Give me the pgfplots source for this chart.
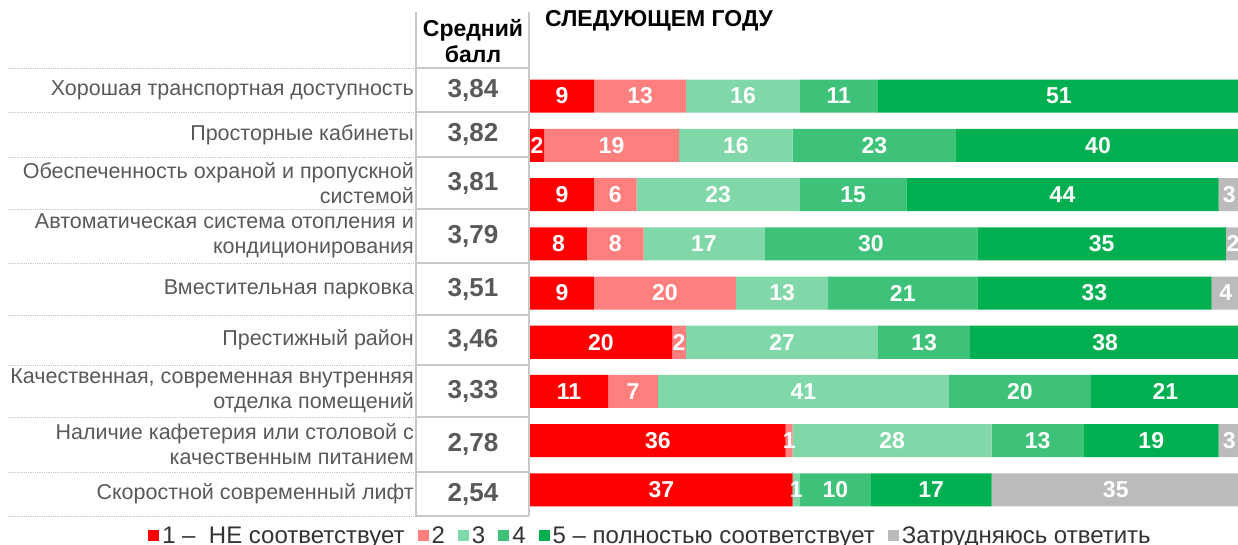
\documentclass[border=0pt]{standalone}
\usepackage{pgfplots}
\pgfplotsset{compat=1.18}
\usepackage{fontspec}
\setmainfont{Liberation Sans}
\definecolor{c1}{HTML}{FF0000}
\definecolor{c2}{HTML}{FF7F7F}
\definecolor{c3}{HTML}{80D7A8}
\definecolor{c4}{HTML}{3EC27A}
\definecolor{c5}{HTML}{00B050}
\definecolor{c6}{HTML}{BBBBBB}
\definecolor{lab}{HTML}{595959}
\definecolor{legt}{HTML}{333333}
\definecolor{gridc}{HTML}{C8C8C8}
\pgfplotsset{sq/.style={legend image code/.code={\fill[##1] (0pt,-5.5pt) rectangle (11pt,5.5pt);}}}
\tikzset{score/.style={font=\fontsize{26}{26}\selectfont\bfseries, text=lab}}
\begin{document}
\begin{tikzpicture}[x=1pt,y=1pt]
\useasboundingbox (0,0) rectangle (1238,545);
% dotted row separators on the left
\foreach \yy in {477,433,388,336,282,230,180,128,73,29}{
  \draw[gridc, densely dotted, line width=0.8pt] (8,\yy) -- (416,\yy);
  \draw[gridc, line width=1.2pt] (416,\yy) -- (529,\yy);
}
\draw[gridc, line width=1.2pt] (416,533) -- (416,29);
\draw[gridc, line width=1.2pt] (529,533) -- (529,29);
% header
\node[anchor=base, font=\fontsize{23}{23}\selectfont\bfseries] at (473,508) {Средний};
\node[anchor=base, font=\fontsize{23}{23}\selectfont\bfseries] at (473,482) {балл};
% title
\node[anchor=base west, inner sep=0pt, font=\fontsize{23}{23}\selectfont\bfseries] at (545,518) {СЛЕДУЮЩЕМ ГОДУ};
\begin{axis}[
  at={(530pt,30.4pt)}, anchor=south west,
  width=710pt, height=443.2pt, scale only axis,
  xbar stacked, bar width=33pt,
  xmin=0, xmax=100, ymin=-0.5, ymax=8.5, y dir=reverse,
  axis line style={draw=none}, tick style={draw=none},
  major tick length=0pt,
  xtick=\empty,
  ytick={-0.122,0.782,1.766,2.843,3.919,4.954,5.99,7.076,8.081},
  yticklabels={Хорошая транспортная доступность,Просторные кабинеты,{Обеспеченность охраной и пропускной\\системой},{Автоматическая система отопления и\\кондиционирования},Вместительная парковка,Престижный район,{Качественная, современная внутренняя\\отделка помещений},{Наличие кафетерия или столовой с\\качественным питанием},Скоростной современный лифт},
  yticklabel style={font=\fontsize{21.5}{25}\selectfont, text=lab, align=right, anchor=east, inner sep=0pt, xshift=-116pt},
  point meta=explicit symbolic,
  nodes near coords,
  every node near coord/.append style={font=\fontsize{23}{23}\selectfont\bfseries, text=white},
  clip=false,
  legend columns=-1,
  legend style={at={(axis description cs:0.169,0)}, anchor=center, yshift=-21pt, draw=none, fill=none,
    font=\fontsize{24}{24}\selectfont, text=legt,
    nodes={inner xsep=1pt},
    /tikz/every even column/.append style={column sep=12pt},
    /tikz/every odd column/.append style={column sep=2pt}},
]
\addplot[fill=c1, draw=none, sq] coordinates {(9,0) [9] (2,1) [2] (9,2) [9] (8,3) [8] (9,4) [9] (20,5) [20] (11,6) [11] (36,7) [36] (37,8) [37]};
\addplot[fill=c2, draw=none, sq] coordinates {(13,0) [13] (19,1) [19] (6,2) [6] (8,3) [8] (20,4) [20] (2,5) [2] (7,6) [7] (1,7) [1] (0,8) [0]};
\addplot[fill=c3, draw=none, sq] coordinates {(16,0) [16] (16,1) [16] (23,2) [23] (17,3) [17] (13,4) [13] (27,5) [27] (41,6) [41] (28,7) [28] (1,8) [1]};
\addplot[fill=c4, draw=none, sq] coordinates {(11,0) [11] (23,1) [23] (15,2) [15] (30,3) [30] (21,4) [21] (13,5) [13] (20,6) [20] (13,7) [13] (10,8) [10]};
\addplot[fill=c5, draw=none, sq] coordinates {(51,0) [51] (40,1) [40] (44,2) [44] (35,3) [35] (33,4) [33] (38,5) [38] (21,6) [21] (19,7) [19] (17,8) [17]};
\addplot[fill=c6, draw=none, sq] coordinates {(0,0) [] (0,1) [] (3,2) [3] (2,3) [2] (4,4) [4] (0,5) [] (0,6) [] (3,7) [3] (35,8) [35]};
\legend{1 –\ \ НЕ соответствует,2,3,4,5 – полностью соответствует,Затрудняюсь ответить}
\node[score] at (axis cs:-8.03,-0.122) {3,84};
\node[score] at (axis cs:-8.03,0.782) {3,82};
\node[score] at (axis cs:-8.03,1.766) {3,81};
\node[score] at (axis cs:-8.03,2.843) {3,79};
\node[score] at (axis cs:-8.03,3.919) {3,51};
\node[score] at (axis cs:-8.03,4.954) {3,46};
\node[score] at (axis cs:-8.03,5.99) {3,33};
\node[score] at (axis cs:-8.03,7.076) {2,78};
\node[score] at (axis cs:-8.03,8.081) {2,54};
\end{axis}
\end{tikzpicture}
\end{document}
